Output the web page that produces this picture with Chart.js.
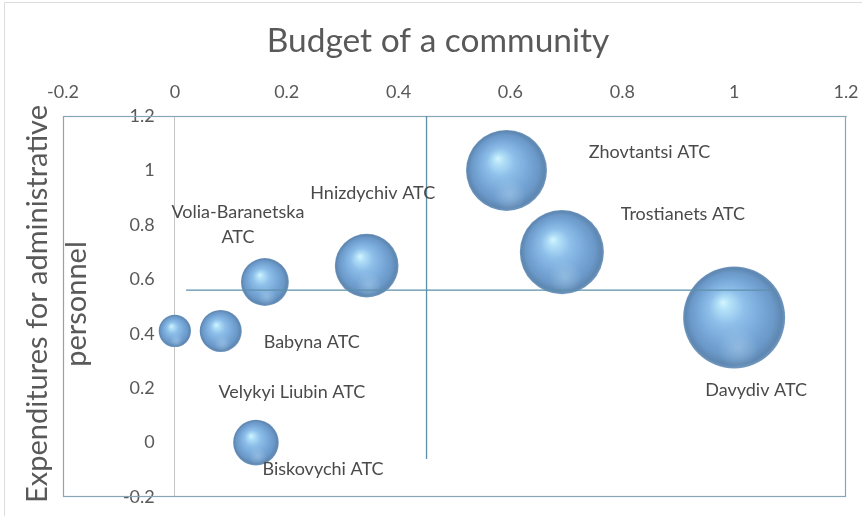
<!DOCTYPE html>
<html>
<head>
<meta charset="utf-8">
<title>Budget of a community</title>
<script src="https://cdn.jsdelivr.net/npm/chart.js@4.4.1/dist/chart.umd.min.js"></script>
<style>
  html, body { margin: 0; padding: 0; background: #fff; }
  #wrap { width: 866px; height: 521px; position: relative; }
</style>
</head>
<body>
<div id="wrap"><canvas id="bubbleChart"></canvas></div>
<script>
// communities and their indicators
const communities = ['Velykyi Liubin ATC', 'Babyna ATC', 'Volia-Baranetska ATC', 'Hnizdychiv ATC',
  'Biskovychi ATC', 'Zhovtantsi ATC', 'Trostianets ATC', 'Davydiv ATC'];
const budget = [0.00, 0.082, 0.161, 0.343, 0.145, 0.593, 0.692, 1.00];
const adminCosts = [0.41, 0.41, 0.59, 0.65, 0.00, 1.00, 0.70, 0.46];
const bubbleSize = [0.10, 0.17, 0.22, 0.39, 0.20, 0.63, 0.68, 1.00];

// average lines
const avgBudget = 0.45;
const avgAdmin = 0.56;
const avgBudgetSpan = [1.2, -0.06];
const avgAdminSpan = [0.02, 1.07];

const xTicks = [-0.2, 0, 0.2, 0.4, 0.6, 0.8, 1, 1.2];
const yTicks = [-0.2, 0, 0.2, 0.4, 0.6, 0.8, 1, 1.2];

// label placement around each bubble (px)
const labelPos = [
  { dx: 117, dy: 61 },
  { dx: 91, dy: 11 },
  { dx: -27, dy: -57, wrap: true },
  { dx: 6, dy: -72 },
  { dx: 67, dy: 27 },
  { dx: 143, dy: -18 },
  { dx: 121, dy: -38 },
  { dx: 22, dy: 73 }
];

const MAX_RADIUS = 51;
const Y_LABEL_SHIFT = -0.036; // y tick labels sit a little left of the x = 0 line
const TEXT = '#595959';
const FONT = 'Lato, "Open Sans", sans-serif';

Chart.defaults.font.family = FONT;
Chart.defaults.color = TEXT;

function fmt(v) {
  return String(+v.toFixed(1));
}

function sphereFill(context) {
  const chart = context.chart;
  const xs = chart.scales.x, ys = chart.scales.y;
  const d = context.raw;
  if (!xs || !ys || !d || context.type !== 'data') return '#78a9d9';
  const cx = xs.getPixelForValue(d.x);
  const cy = ys.getPixelForValue(d.y);
  const r = d.r;
  if (![cx, cy, r].every(Number.isFinite)) return '#78a9d9';
  const g = chart.ctx.createRadialGradient(cx - r * 0.22, cy - r * 0.3, 0, cx, cy, r);
  g.addColorStop(0, '#d4f4ff');
  g.addColorStop(0.12, '#b3e1f8');
  g.addColorStop(0.34, '#8fc0ea');
  g.addColorStop(0.6, '#79aada');
  g.addColorStop(0.82, '#6b99c9');
  g.addColorStop(0.95, '#5e87b1');
  g.addColorStop(1, '#7399bf');
  return g;
}

// soft light near the bottom of each sphere
const sphereGlow = {
  id: 'sphereGlow',
  afterDatasetDraw(chart, args) {
    if (args.meta.type !== 'bubble') return;
    const ctx = chart.ctx;
    args.meta.data.forEach(el => {
      const r = el.options.radius;
      const gx = el.x + r * 0.08, gy = el.y + r * 0.6;
      if (![gx, gy, r].every(Number.isFinite)) return;
      ctx.save();
      const g = ctx.createRadialGradient(gx, gy, 0, gx, gy, r * 0.4);
      g.addColorStop(0, 'rgba(180,212,238,0.45)');
      g.addColorStop(1, 'rgba(180,212,238,0)');
      ctx.beginPath();
      ctx.arc(el.x, el.y, r, 0, Math.PI * 2);
      ctx.clip();
      ctx.fillStyle = g;
      ctx.fillRect(el.x - r, el.y - r, r * 2, r * 2);
      ctx.restore();
    });
  }
};

// frames, title, point labels and the two-line y title
const decorations = {
  id: 'decorations',
  beforeDraw(chart) {
    const ctx = chart.ctx;
    ctx.save();
    ctx.fillStyle = '#fff';
    ctx.fillRect(0, 0, chart.width, chart.height);
    ctx.strokeStyle = '#dcdcdc';
    ctx.lineWidth = 1;
    ctx.beginPath();
    ctx.moveTo(4.5, chart.height - 5);
    ctx.lineTo(4.5, 2.5);
    ctx.lineTo(chart.width - 4, 2.5);
    ctx.stroke();

    ctx.fillStyle = TEXT;
    ctx.font = '33.5px ' + FONT;
    ctx.textAlign = 'center';
    ctx.textBaseline = 'middle';
    ctx.fillText('Budget of a community', 438, 41);
    ctx.restore();
  },
  beforeDatasetsDraw(chart) {
    const a = chart.chartArea;
    const ctx = chart.ctx;
    ctx.save();
    ctx.strokeStyle = '#87a6b8';
    ctx.lineWidth = 1.2;
    ctx.strokeRect(a.left + 0.5, a.top + 0.5, a.right - a.left - 1, a.bottom - a.top - 1);
    ctx.restore();
  },
  afterDraw(chart) {
    const ctx = chart.ctx;
    const meta = chart.getDatasetMeta(2);
    ctx.save();
    ctx.fillStyle = '#4a4a4a';
    ctx.font = '18px ' + FONT;
    ctx.textAlign = 'center';
    ctx.textBaseline = 'middle';
    meta.data.forEach((el, i) => {
      const p = labelPos[i];
      const name = communities[i];
      const x = el.x + p.dx, y = el.y + p.dy;
      if (p.wrap) {
        const cut = name.lastIndexOf(' ');
        ctx.fillText(name.slice(0, cut), x, y - 12.5);
        ctx.fillText(name.slice(cut + 1), x, y + 12.5);
      } else {
        ctx.fillText(name, x, y);
      }
    });

    ctx.fillStyle = TEXT;
    ctx.font = '29px ' + FONT;
    ctx.translate(0, 304);
    ctx.rotate(-Math.PI / 2);
    ctx.fillText('Expenditures for administrative', 0, 38);
    ctx.fillText('personnel', 0, 77);
    ctx.restore();
  }
};

const bubbles = communities.map((name, i) => ({
  x: budget[i],
  y: adminCosts[i],
  r: MAX_RADIUS * Math.sqrt(bubbleSize[i] / Math.max(...bubbleSize))
}));

new Chart(document.getElementById('bubbleChart'), {
  type: 'bubble',
  data: {
    datasets: [
      {
        type: 'line',
        label: 'Average budget',
        data: avgBudgetSpan.map(y => ({ x: avgBudget, y: y })),
        borderColor: '#5d8fab',
        borderWidth: 1.3,
        pointRadius: 0,
        order: 0
      },
      {
        type: 'line',
        label: 'Average expenditures',
        data: avgAdminSpan.map(x => ({ x: x, y: avgAdmin })),
        borderColor: '#5d8fab',
        borderWidth: 1.3,
        pointRadius: 0,
        order: 0
      },
      {
        label: 'Communities',
        data: bubbles,
        backgroundColor: sphereFill,
        borderWidth: 0,
        clip: false,
        order: 1
      }
    ]
  },
  options: {
    responsive: true,
    maintainAspectRatio: false,
    animation: false,
    events: [],
    layout: { autoPadding: false, padding: { left: 63, right: 20, top: 68, bottom: 24 } },
    plugins: {
      legend: { display: false },
      tooltip: { enabled: false },
      title: { display: false }
    },
    scales: {
      x: {
        type: 'linear',
        position: 'top',
        min: -0.2,
        max: 1.2,
        afterBuildTicks: s => { s.ticks = xTicks.map(v => ({ value: v })); },
        afterFit: s => { s.height = 48; s.paddingLeft = 0; s.paddingRight = 0; },
        ticks: { font: { size: 18 }, padding: 13, callback: fmt, color: TEXT },
        // only the x = 0 line is drawn, it serves as the vertical axis
        grid: {
          color: c => (c.tick && c.tick.value === 0 ? '#c4c4c4' : 'transparent'),
          drawTicks: false
        },
        border: { color: '#bdbdbd', width: 1 }
      },
      y: {
        type: 'linear',
        position: { x: Y_LABEL_SHIFT },
        min: -0.2,
        max: 1.2,
        afterBuildTicks: s => { s.ticks = yTicks.map(v => ({ value: v })); },
        afterFit: s => { s.width = 0; s.paddingTop = 0; s.paddingBottom = 0; },
        ticks: { font: { size: 18 }, padding: 0, callback: fmt, color: TEXT },
        grid: { color: 'transparent', drawTicks: false },
        border: { display: false }
      }
    }
  },
  plugins: [sphereGlow, decorations]
});
</script>
</body>
</html>
